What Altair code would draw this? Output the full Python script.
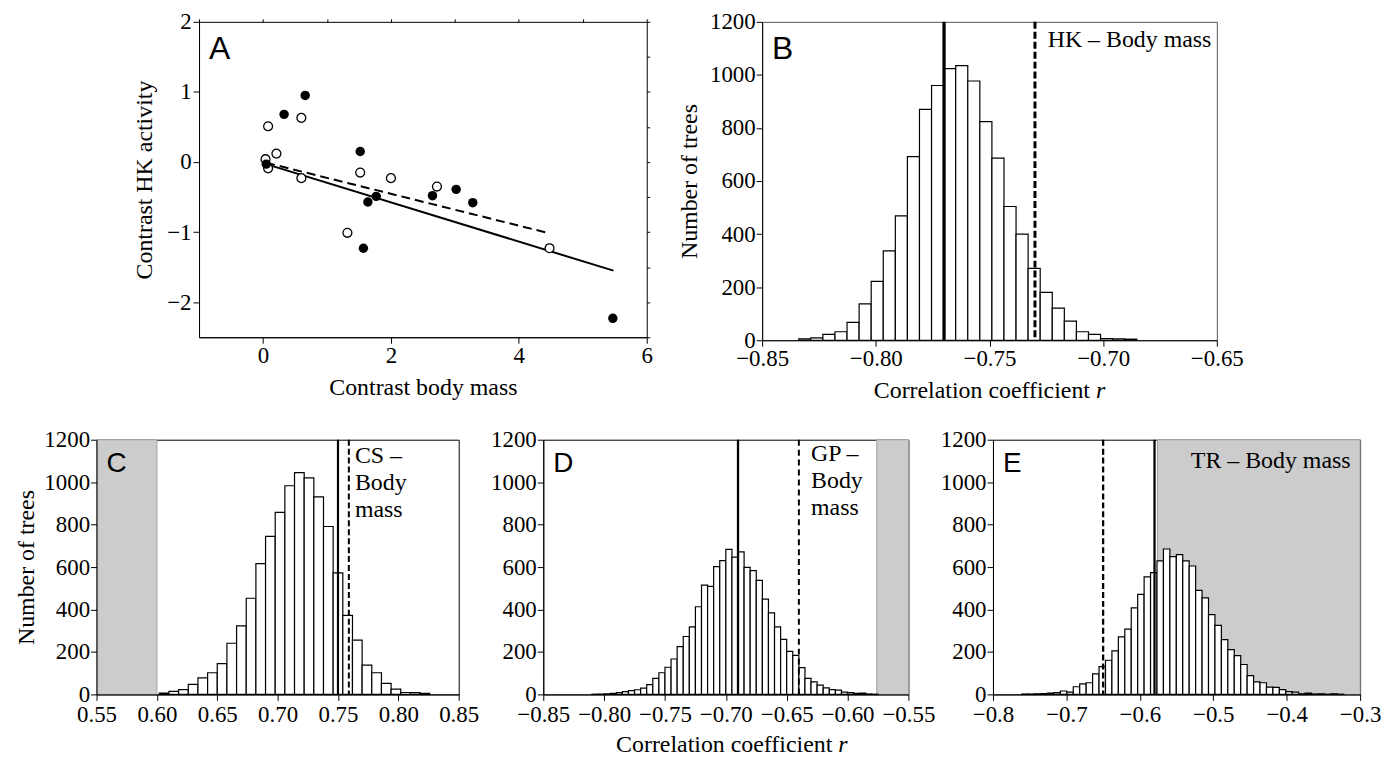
import altair as alt
import pandas as pd

SERIF = "Liberation Serif"
SANS = "Liberation Sans"

# ---------------- Panel A : contrasts ----------------
a_filled_x = [0.66, 0.33, 0.05, 1.52, 1.64, 1.77, 1.57, 2.65, 3.02, 3.28, 5.47]
a_filled_y = [0.95, 0.68, -0.03, 0.15, -0.57, -0.49, -1.23, -0.48, -0.39, -0.58, -2.23]
a_open_x = [0.08, 0.60, 0.21, 0.04, 0.08, 0.60, 1.52, 2.00, 2.72, 1.32, 4.48]
a_open_y = [0.51, 0.63, 0.12, 0.04, -0.09, -0.23, -0.15, -0.23, -0.35, -1.01, -1.23]
a_solid_x = [0.05, 5.48]
a_solid_y = [-0.03, -1.55]
a_dash_x = [0.05, 4.45]
a_dash_y = [-0.01, -1.01]
a_xdomain = [-1, 6]
a_ydomain = [-2.5, 2]
a_xticks = [0, 2, 4, 6]
a_yticks = [-2, -1, 0, 1, 2]
a_xminor = [-1, 0, 1, 2, 3, 4, 5, 6]
a_yminor = [-2.5, -2, -1.5, -1, -0.5, 0, 0.5, 1, 1.5, 2]

# ---------------- Histograms ----------------
hist_yticks = [0, 200, 400, 600, 800, 1000, 1200]
hist_ydomain = [0, 1200]

b_bin_start = -0.8339
b_bin_width = 0.00531
b_counts = [5, 9, 22, 32, 67, 137, 222, 337, 469, 692, 870, 960, 1024, 1035,
            977, 824, 686, 504, 400, 271, 180, 121, 72, 32, 22, 6, 5, 4]
b_solid = -0.770
b_dashed = -0.730
b_xdomain = [-0.85, -0.65]
b_xticks = [-0.85, -0.80, -0.75, -0.70, -0.65]
b_note = "HK – Body mass"
b_note_x = -0.7244

c_bin_start = 0.602
c_bin_width = 0.008
c_counts = [6, 14, 23, 47, 78, 102, 145, 241, 323, 453, 616, 745, 858, 983,
            1045, 1020, 931, 791, 573, 372, 256, 138, 102, 52, 25, 9, 8, 5]
c_solid = 0.750
c_dashed = 0.759
c_shade = [0.55, 0.60]
c_xdomain = [0.55, 0.85]
c_xticks = [0.55, 0.60, 0.65, 0.70, 0.75, 0.80, 0.85]
c_note = ["CS –", "Body", "mass"]
c_note_x = 0.764

d_bin_start = -0.81
d_bin_width = 0.005
d_counts = [1, 2, 3, 5, 8, 13, 18, 22, 30, 46, 76, 102, 128, 167, 225, 273, 318,
            413, 515, 509, 602, 630, 683, 647, 672, 599, 583, 537, 449, 384, 318,
            259, 203, 184, 126, 76, 59, 44, 31, 23, 20, 11, 8, 5, 6, 2, 1]
d_solid = -0.690
d_dashed = -0.640
d_shade = [-0.576, -0.55]
d_xdomain = [-0.85, -0.55]
d_xticks = [-0.85, -0.80, -0.75, -0.70, -0.65, -0.60, -0.55]
d_note = ["GP –", "Body", "mass"]
d_note_x = -0.630

e_bin_start = -0.7608
e_bin_width = 0.00877
e_counts = [2, 2, 3, 4, 6, 8, 16, 11, 36, 50, 55, 97, 131, 161, 205, 271, 308,
            408, 471, 554, 574, 629, 685, 649, 659, 629, 605, 490, 455, 376, 325,
            258, 211, 183, 141, 89, 59, 55, 34, 33, 23, 13, 11, 3, 6, 2, 3, 1, 3, 1]
e_solid = -0.580
e_dashed = -0.650
e_shade = [-0.576, -0.30]
e_xdomain = [-0.8, -0.3]
e_xticks = [-0.8, -0.7, -0.6, -0.5, -0.4, -0.3]
e_note = "TR – Body mass"
e_note_x = -0.313

panel_letters = ["A", "B", "C", "D", "E"]
x_title_main = "Correlation coefficient"
x_title_var = "r"
y_title_trees = "Number of trees"

LABEL = 23
TITLE = 24


# ---------------- Panel A chart ----------------
xsA = alt.Scale(domain=a_xdomain, nice=False, zero=False)
ysA = alt.Scale(domain=a_ydomain, nice=False, zero=False)
axA_x = alt.Axis(values=a_xticks, format="d", title="Contrast body mass",
                 tickSize=6, labelPadding=1, titlePadding=9)
axA_y = alt.Axis(values=a_yticks, format="d", title="Contrast HK activity",
                 tickSize=6, labelPadding=2, titlePadding=10)

dfA_f = pd.DataFrame({"x": a_filled_x, "y": a_filled_y})
dfA_o = pd.DataFrame({"x": a_open_x, "y": a_open_y})
dfA_s = pd.DataFrame({"x": a_solid_x, "y": a_solid_y})
dfA_d = pd.DataFrame({"x": a_dash_x, "y": a_dash_y})

lineS = alt.Chart(dfA_s).mark_line(color="black", strokeWidth=2).encode(
    x=alt.X("x:Q", scale=xsA, axis=axA_x), y=alt.Y("y:Q", scale=ysA, axis=axA_y))
lineD = alt.Chart(dfA_d).mark_line(color="black", strokeWidth=2, strokeDash=[9, 5]).encode(
    x=alt.X("x:Q", scale=xsA, axis=None), y=alt.Y("y:Q", scale=ysA, axis=None))
openP = alt.Chart(dfA_o).mark_circle(fill="white", stroke="black", strokeWidth=1.3,
                                     size=80, opacity=1).encode(
    x=alt.X("x:Q", scale=xsA, axis=None), y=alt.Y("y:Q", scale=ysA, axis=None))
fillP = alt.Chart(dfA_f).mark_circle(color="black", size=90, opacity=1).encode(
    x=alt.X("x:Q", scale=xsA, axis=None), y=alt.Y("y:Q", scale=ysA, axis=None))
minorA = alt.Chart(dfA_f.head(1)).mark_point(opacity=0).encode(
    x=alt.X("x:Q", scale=xsA, axis=alt.Axis(orient="top", values=a_xminor, labels=False,
                                            tickSize=3, domain=False, title=None)),
    y=alt.Y("y:Q", scale=ysA, axis=alt.Axis(orient="right", values=a_yminor, labels=False,
                                            tickSize=3, domain=False, title=None)))
letterA = alt.Chart(pd.DataFrame({"t": [panel_letters[0]]})).mark_text(
    font=SANS, fontSize=32, align="left", baseline="alphabetic", color="black").encode(
    x=alt.value(10), y=alt.value(37), text="t:N")

panelA = alt.layer(lineS, lineD, openP, fillP, letterA, minorA).resolve_axis(
    x="independent", y="independent").properties(
    width=450, height=317, view=alt.ViewBackground(stroke="black", strokeWidth=1))


# ---------------- Histogram panel builder ----------------
def hist_panel(start, width, counts, xdom, xticks, xfmt, solid, dashed, shade,
               letter, letter_size, letter_y, note, note_x, note_align, note_y,
               w, h, with_xtitle, ytitle, solid_w, dash_w, dash, frame_color,
               xtitle_dy, xtitle_dx, ytp, xlp):
    lo = [start + i * width for i in range(len(counts))]
    df = pd.DataFrame({"lo": lo, "hi": [v + width for v in lo], "n": counts})
    xs = alt.Scale(domain=xdom, nice=False, zero=False)
    ys = alt.Scale(domain=hist_ydomain, nice=False, zero=True)
    xax = alt.Axis(values=xticks, format=xfmt, tickSize=6, labelPadding=xlp,
                   title=None, zindex=1)
    yax = alt.Axis(values=hist_yticks, format="d", title=ytitle, tickSize=6,
                   labelPadding=1, titlePadding=ytp, zindex=1)
    layers = []
    if shade is not None:
        sdf = pd.DataFrame({"x0": [shade[0]], "x1": [shade[1]]})
        layers.append(alt.Chart(sdf).mark_rect(fill="#cccccc", stroke="#a0a0a0",
                                               strokeWidth=1).encode(
            x=alt.X("x0:Q", scale=xs, axis=xax), x2="x1:Q"))
    layers.append(alt.Chart(df).mark_rect(fill="white", stroke="black",
                                          strokeWidth=1.2).encode(
        x=alt.X("lo:Q", scale=xs, axis=xax), x2="hi:Q",
        y=alt.Y("n:Q", scale=ys, axis=yax), y2=alt.datum(0)))
    layers.append(alt.Chart(pd.DataFrame({"v": [solid]})).mark_rule(
        color="black", strokeWidth=solid_w).encode(x=alt.X("v:Q", scale=xs, axis=xax)))
    layers.append(alt.Chart(pd.DataFrame({"v": [dashed]})).mark_rule(
        color="black", strokeWidth=dash_w, strokeDash=dash).encode(
        x=alt.X("v:Q", scale=xs, axis=xax)))
    layers.append(alt.Chart(pd.DataFrame({"v": [note_x]})).mark_text(
        text=note, font=SERIF, fontSize=24, align=note_align, baseline="alphabetic",
        lineHeight=27.5, color="black").encode(
        x=alt.X("v:Q", scale=xs, axis=xax), y=alt.value(note_y)))
    layers.append(alt.Chart(pd.DataFrame({"t": [letter]})).mark_text(
        font=SANS, fontSize=letter_size, align="left", baseline="alphabetic",
        color="black").encode(x=alt.value(10), y=alt.value(letter_y), text="t:N"))
    if with_xtitle:
        cx = w / 2 + xtitle_dx
        layers.append(alt.Chart(pd.DataFrame({"t": [x_title_main]})).mark_text(
            font=SERIF, fontSize=TITLE, align="right", baseline="alphabetic",
            color="black").encode(x=alt.value(cx + 101), y=alt.value(h + xtitle_dy),
                                  text="t:N"))
        layers.append(alt.Chart(pd.DataFrame({"t": [x_title_var]})).mark_text(
            font=SERIF, fontSize=TITLE, fontStyle="italic", align="left",
            baseline="alphabetic", color="black").encode(
            x=alt.value(cx + 107), y=alt.value(h + xtitle_dy), text="t:N"))
    return alt.layer(*layers).properties(
        width=w, height=h, view=alt.ViewBackground(stroke=frame_color, strokeWidth=1))


panelB = hist_panel(b_bin_start, b_bin_width, b_counts, b_xdomain, b_xticks, ".2f",
                    b_solid, b_dashed, None, panel_letters[1], 32, 37,
                    b_note, b_note_x, "left", 25, 457, 320,
                    True, y_title_trees, 3.3, 3, [7, 3], "#555555", 58, 0, 8, 1)
panelC = hist_panel(c_bin_start, c_bin_width, c_counts, c_xdomain, c_xticks, ".2f",
                    c_solid, c_dashed, c_shade, panel_letters[2], 28, 32,
                    c_note, c_note_x, "left", 23, 364, 256,
                    False, y_title_trees, 2.2, 2, [6, 3], "black", 0, 0, 5, 3)
panelD = hist_panel(d_bin_start, d_bin_width, d_counts, d_xdomain, d_xticks, ".2f",
                    d_solid, d_dashed, d_shade, panel_letters[3], 28, 32,
                    d_note, d_note_x, "left", 21, 367, 256,
                    True, None, 2.3, 2, [6, 4], "black", 58, 6, 5, 3)
panelE = hist_panel(e_bin_start, e_bin_width, e_counts, e_xdomain, e_xticks, ".1f",
                    e_solid, e_dashed, e_shade, panel_letters[4], 28, 32,
                    e_note, e_note_x, "right", 28, 369, 256,
                    False, None, 2.3, 2.3, [6, 3], "black", 0, 0, 5, 3)


def spacer(w):
    return alt.Chart(pd.DataFrame({"v": [0]})).mark_point(opacity=0).encode(
        x=alt.X("v:Q", axis=None), y=alt.Y("v:Q", axis=None)).properties(
        width=w, height=1, view=alt.ViewBackground(strokeWidth=0))


top = alt.hconcat(spacer(73), panelA, panelB, spacing=116, bounds="flush")
bottom = alt.hconcat(spacer(1), panelC, panelD, panelE, spacing=85, bounds="flush")

chart = alt.vconcat(top, bottom, spacing=24).properties(
    padding={"left": 0, "top": 0, "right": 0, "bottom": 0}
).configure_view(stroke=None).configure_axis(
    labelFont=SERIF, titleFont=SERIF, labelFontSize=LABEL, titleFontSize=TITLE,
    titleFontWeight="normal", labelColor="black", titleColor="black",
    domainColor="black", tickColor="black", grid=False, labelFlush=False,
    labelOverlap=False, domainWidth=1, tickWidth=1
)

chart.save("out.html", embed_options={"renderer": "svg", "actions": False})
